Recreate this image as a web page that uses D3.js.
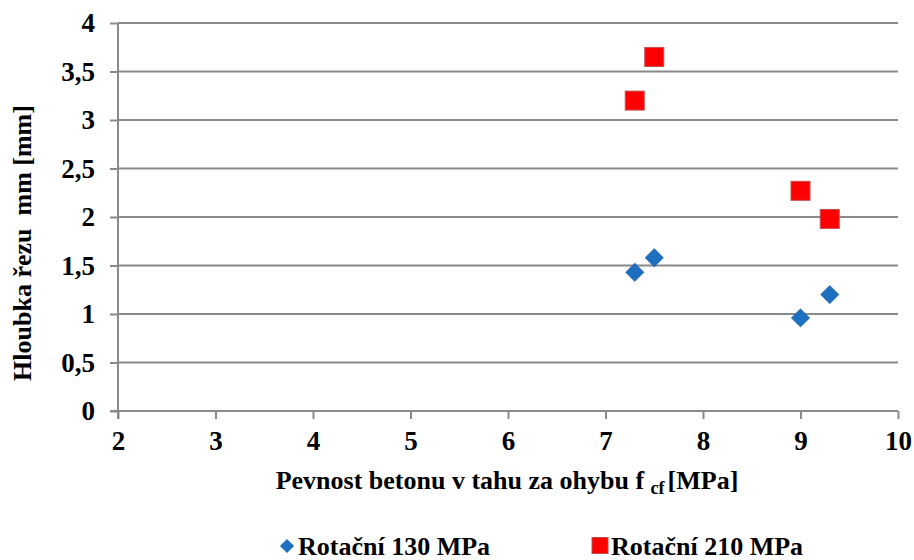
<!DOCTYPE html>
<html>
<head>
<meta charset="utf-8">
<script src="https://cdn.jsdelivr.net/npm/d3@7"></script>
<style>
  body { margin: 0; background: #fff; }
  text { font-family: "Liberation Serif", "Times New Roman", serif; font-weight: bold; fill: #000; }
</style>
</head>
<body>
<div id="chart"></div>
<script>
let svg_width = 914
let svg_height = 560

// data
let series_names = ["Rotační 130 MPa", "Rotační 210 MPa"]
let x_values = [7.3, 7.5, 9.0, 9.3]
let rot130 = [1.43, 1.58, 0.96, 1.2]
let rot210 = [3.2, 3.65, 2.27, 1.98]
let x_ticks = [2, 3, 4, 5, 6, 7, 8, 9, 10]
let y_ticks = [0, 0.5, 1, 1.5, 2, 2.5, 3, 3.5, 4]

let plotLeft = 118, plotRight = 898, plotTop = 23, plotBottom = 411

let svg = d3.select("#chart")
    .append("svg")
    .attr("width", svg_width)
    .attr("height", svg_height)

let x = d3.scaleLinear().domain([2, 10]).range([plotLeft, plotRight])
let y = d3.scaleLinear().domain([0, 4]).range([plotBottom, plotTop])

// horizontal gridlines
svg.selectAll(".grid")
    .data(y_ticks.filter(d => d > 0))
    .enter()
    .append("line")
    .attr("x1", plotLeft).attr("x2", plotRight)
    .attr("y1", d => y(d)).attr("y2", d => y(d))
    .attr("stroke", "#8a8a8a")
    .attr("stroke-width", 2)

let fmt = d => String(d).replace(".", ",")

let yAxis = svg.append("g")
    .attr("transform", `translate(${plotLeft},0)`)
    .call(d3.axisLeft(y).tickValues(y_ticks).tickSize(8).tickPadding(15).tickFormat(fmt))
let xAxis = svg.append("g")
    .attr("transform", `translate(0,${plotBottom})`)
    .call(d3.axisBottom(x).tickValues(x_ticks).tickSize(8).tickPadding(12).tickFormat(d3.format("d")))

for (let a of [xAxis, yAxis]) {
    a.select(".domain").attr("stroke", "#8a8a8a").attr("stroke-width", 2)
    a.selectAll(".tick line").attr("stroke", "#8a8a8a").attr("stroke-width", 2)
    a.selectAll(".tick text")
        .style("font-size", "27px")
        .style("font-family", "Liberation Serif")
        .style("font-weight", "bold")
        .attr("fill", "#000")
}
xAxis.select(".domain").attr("d", `M${plotLeft},8V0H${plotRight}`)
yAxis.select(".domain").attr("d", `M-8,${plotBottom}H0V${plotTop}`)

// axis titles
let xt = svg.append("text")
    .attr("x", 507)
    .attr("y", 489)
    .style("text-anchor", "middle")
    .style("font-size", "26px")
xt.append("tspan").text("Pevnost betonu v tahu za ohybu f ")
xt.append("tspan").text("cf").style("font-size", "18px").attr("dy", 5)
xt.append("tspan").text("[MPa]").attr("dy", -5).attr("dx", 3)

svg.append("text")
    .attr("transform", `translate(30.5,243) rotate(-90)`)
    .attr("xml:space", "preserve")
    .style("white-space", "pre")
    .style("text-anchor", "middle")
    .style("font-size", "26px")
    .text("Hloubka řezu  mm [mm]")

let blue = "#1f6fc0"
let red = "#ff0000"

let pts130 = x_values.map((v, i) => ({x: v, y: rot130[i]}))
let pts210 = x_values.map((v, i) => ({x: v, y: rot210[i]}))

let diamond = d3.symbol().type(d3.symbolSquare).size(170)
svg.selectAll(".d130")
    .data(pts130)
    .enter()
    .append("path")
    .attr("d", diamond)
    .attr("transform", d => `translate(${x(d.x)},${y(d.y)}) rotate(45)`)
    .attr("fill", blue)
    .attr("stroke", "#1a5fa8")
    .attr("stroke-width", 0.5)

let sq = 19
svg.selectAll(".d210")
    .data(pts210)
    .enter()
    .append("rect")
    .attr("x", d => x(d.x) - sq / 2)
    .attr("y", d => y(d.y) - sq / 2)
    .attr("width", sq)
    .attr("height", sq)
    .attr("fill", red)
    .attr("stroke", "#c0504d")
    .attr("stroke-width", 1)

// legend
let lg = svg.append("g")
lg.append("path")
    .attr("d", d3.symbol().type(d3.symbolSquare).size(100))
    .attr("transform", "translate(287,546) rotate(45)")
    .attr("fill", blue)
lg.append("text").attr("x", 298).attr("y", 555).style("font-size", "26px").text(series_names[0])
lg.append("rect")
    .attr("x", 592).attr("y", 537.5).attr("width", 16).attr("height", 16)
    .attr("fill", red).attr("stroke", "#c0504d")
lg.append("text").attr("x", 611).attr("y", 555).style("font-size", "26px").text(series_names[1])
</script>
</body>
</html>
